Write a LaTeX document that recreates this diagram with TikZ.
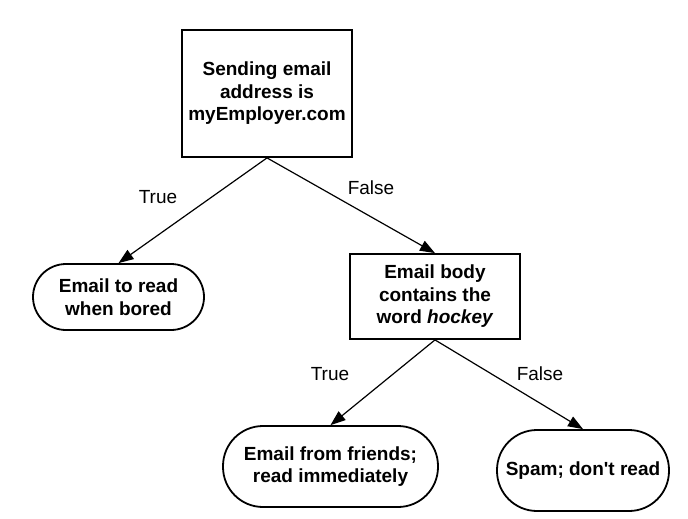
\documentclass[tikz,border=0pt]{standalone}
\usepackage{fontspec}
\setmainfont{Liberation Sans}
\usetikzlibrary{arrows.meta}
\begin{document}
\begin{tikzpicture}[x=1pt,y=-1pt,
  every node/.style={font=\fontsize{19}{22.5}\selectfont, align=center, inner sep=0pt},
  testbox/.style={draw, line width=1.8pt, font=\bfseries\fontsize{19}{22.5}\selectfont},
  leafbox/.style={draw, line width=1.8pt, font=\bfseries\fontsize{19}{22.5}\selectfont},
  edge/.style={line width=1.2pt, -{Triangle[length=15pt,width=11pt]}},
  branch/.style={font=\fontsize{19}{22.5}\selectfont}
]
\useasboundingbox (0,0) rectangle (688,519);
% decision nodes
\node[testbox, minimum width=170, minimum height=127] (root) at (267,93.5)
  {Sending email\\address is\\myEmployer.com};
\node[testbox, minimum width=170, minimum height=85] (body) at (435,296.5)
  {Email body\\contains the\\word \textit{hockey}};
% outcome nodes
\node[leafbox, minimum width=171, minimum height=66, rounded corners=33] (bored) at (118.5,297)
  {Email to read\\when bored};
\node[leafbox, minimum width=215, minimum height=81, rounded corners=40] (friends) at (330.5,466.5)
  {Email from friends;\\read immediately};
\node[leafbox, minimum width=172, minimum height=81, rounded corners=40] (spam) at (583,470.5)
  {Spam; don\textquotesingle t read};
% branches
\draw[edge] (root.south) -- (bored.north);
\draw[edge] (root.south) -- (body.north);
\draw[edge] (body.south) -- (friends.north);
\draw[edge] (body.south) -- (spam.north);
% branch labels
\node[branch] (t1) at (158,197) {True};
\node[branch] (f1) at (371,188) {False};
\node[branch] (t2) at (330,374) {True};
\node[branch] (f2) at (540,374) {False};
\end{tikzpicture}
\end{document}
